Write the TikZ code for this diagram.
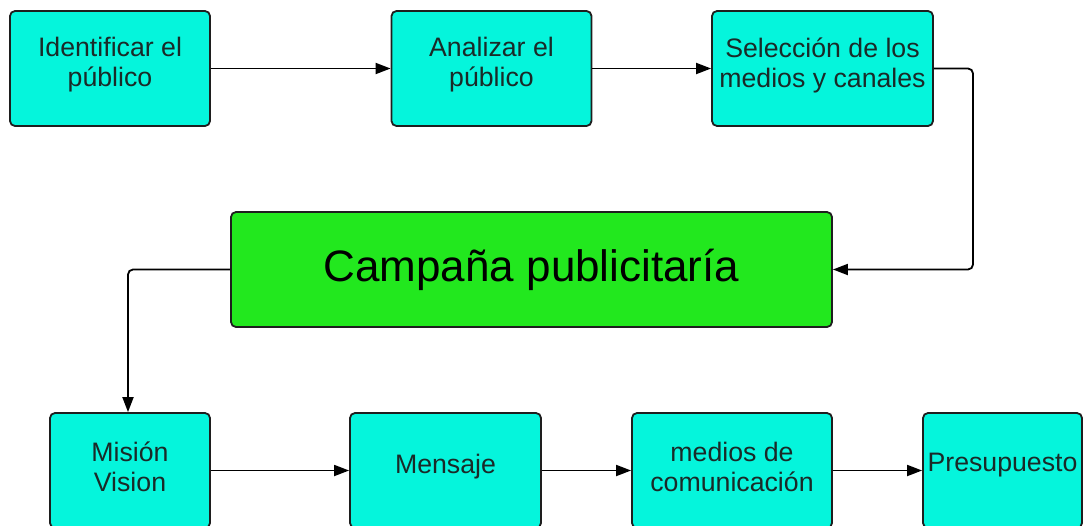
\documentclass[tikz,border=0pt]{standalone}
\usepackage{fontspec}
\setmainfont{Liberation Sans}
\usetikzlibrary{arrows.meta}
\definecolor{boxcyan}{HTML}{05F5DC}
\definecolor{boxgreen}{HTML}{22E81E}
\definecolor{edgecol}{HTML}{1E1E1E}
\definecolor{txtcol}{HTML}{1A2A28}
\begin{document}
\begin{tikzpicture}[x=1pt,y=-1pt,
  cbox/.style={draw=edgecol, line width=1.8pt, fill=boxcyan, rounded corners=5pt,
    minimum width=200pt, minimum height=115pt, inner sep=0pt, align=center,
    text=txtcol, font=\fontsize{26.7}{30}\selectfont},
  gbox/.style={draw=edgecol, line width=1.8pt, fill=boxgreen, rounded corners=5pt,
    minimum width=601pt, minimum height=115pt, inner sep=0pt, align=center,
    text=black, font=\fontsize{44}{50}\selectfont},
  conn/.style={draw=black, line width=1.8pt, rounded corners=5pt,
    -{Triangle[length=15pt,width=11pt]}},
  lbl/.style={align=center, inner sep=0pt, text=txtcol, font=\fontsize{26.7}{30}\selectfont}
]
\useasboundingbox (0,0) rectangle (1084,525);
\clip (0,0) rectangle (1084,525);
% top row
\node[cbox] (b1) at (110,68.5) {};
\node[lbl] (t1) at (110,65) {Identificar el\\público};
\node[cbox] (b2) at (491.5,68.5) {};
\node[lbl] (t2) at (491.5,65) {Analizar el\\público};
\node[cbox, minimum width=221pt] (b3) at (822.5,68.5) {};
\node[lbl] (t3) at (822.5,65) {Selección de los\\medios y canales};
% green
\node[gbox] (g) at (531.5,269.5) {Campaña publicitaría};
% bottom row
\node[cbox, minimum width=160pt] (b4) at (130,470.5) {};
\node[lbl] (t4) at (130,467) {Misión\\Vision};
\node[cbox, minimum width=191pt] (b5) at (445.5,470.5) {};
\node[lbl] (t5) at (445.5,467) {Mensaje};
\node[cbox] (b6) at (732,470.5) {};
\node[lbl] (t6) at (732,467) {medios de\\comunicación};
\node[cbox, minimum width=159pt] (b7) at (1002.5,470.5) {};
\node[lbl] (t7) at (1002.5,465) {Presupuesto};
% connectors
\coordinate (c1) at (973,68.5);
\coordinate (c2) at (973,269.5);
\coordinate (c3) at (128,269.5);
\draw[conn] (b1.east) -- (b2.west);
\draw[conn] (b2.east) -- (b3.west);
\draw[conn] (b3.east) -- (c1) -- (c2) -- (g.east);
\draw[conn] (g.west) -- (c3) -- (b4.north -| c3);
\draw[conn] (b4.east) -- (b5.west);
\draw[conn] (b5.east) -- (b6.west);
\draw[conn] (b6.east) -- (b7.west);
\end{tikzpicture}
\end{document}
